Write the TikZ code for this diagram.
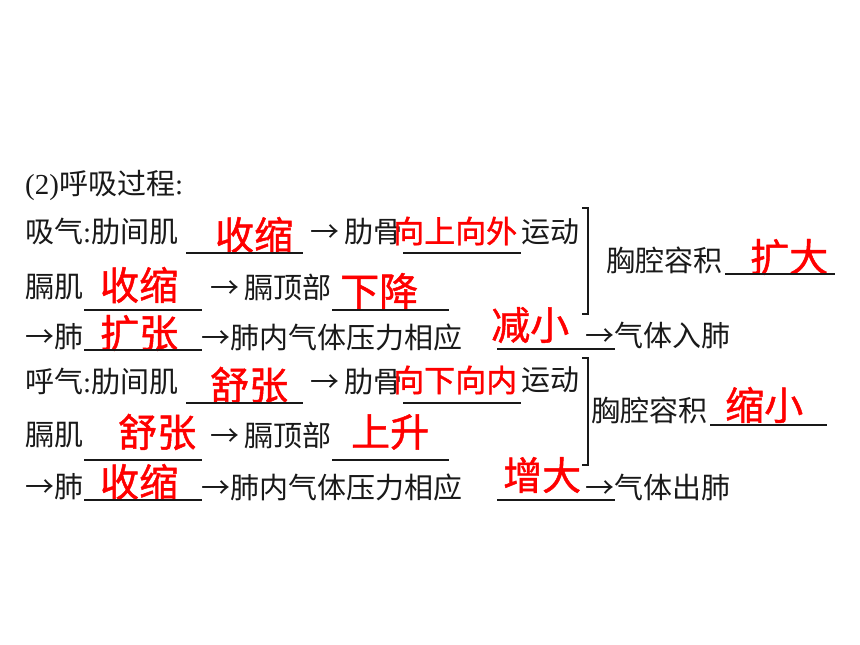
\documentclass[tikz,border=0pt]{standalone}
\usepackage{fontspec}
\setmainfont{Noto Sans CJK SC}
\newfontfamily\tnr{Liberation Serif}
\newfontfamily\ansfont[FakeBold=1.2]{Noto Sans CJK SC}
\usepackage{tikz}
\usetikzlibrary{positioning}

\begin{document}
\begin{tikzpicture}[x=1pt,y=-1pt,
  txt/.style={anchor=west, inner sep=0pt, text=black!90, font=\fontsize{29}{31}\selectfont},
  ans/.style={anchor=west, inner sep=0pt, text=red, font=\ansfont\fontsize{39}{41}\selectfont},
  anss/.style={ans, font=\ansfont\fontsize{31}{33}\selectfont},
  blank/.style={line width=1.4pt, black!90},
  brace/.style={line width=2pt, black!90}]
\useasboundingbox (0,0) rectangle (860,645);

% title
\node[txt] (title) at (25,185) {{\tnr (2)}呼吸过程{\tnr :}};

% inhale text
\node[txt] (i1) at (25,232) {吸气{\tnr :}肋间肌};
\node[txt] (i2) at (310,232) {→\,肋骨};
\node[txt] (i3) at (521,232) {运动};
\node[txt] (i4) at (25,287) {膈肌};
\node[txt] (i5) at (210,287) {→\,膈顶部};
\node[txt] (i6) at (25,337) {→肺};
\node[txt] (i7) at (201,337) {→肺内气体压力相应};
\node[txt] (i8) at (585,335) {→气体入肺};
\node[txt] (i9) at (606,260) {胸腔容积};

% inhale answers
\node[ans] (a1) at (215,235) {收缩};
\node[anss] (a2) at (393,231) {向上向外};
\node[ans] (a3) at (100,285) {收缩};
\node[ans] (a4) at (340,291) {下降};
\node[ans] (a5) at (100,333) {扩张};
\node[ans] (a6) at (491,325) {减小};
\node[ans] (a7) at (750,257) {扩大};

% exhale text
\node[txt] (e1) at (25,382) {呼气{\tnr :}肋间肌};
\node[txt] (e2) at (310,382) {→\,肋骨};
\node[txt] (e3) at (521,380) {运动};
\node[txt] (e4) at (25,435) {膈肌};
\node[txt] (e5) at (210,435) {→\,膈顶部};
\node[txt] (e6) at (25,487) {→肺};
\node[txt] (e7) at (201,487) {→肺内气体压力相应};
\node[txt] (e8) at (585,487) {→气体出肺};
\node[txt] (e9) at (591,410) {胸腔容积};

% exhale answers
\node[ans] (b1) at (210,385) {舒张};
\node[anss] (b2) at (393,380) {向下向内};
\node[ans] (b3) at (118,432) {舒张};
\node[ans] (b4) at (351,432) {上升};
\node[ans] (b5) at (100,482) {收缩};
\node[ans] (b6) at (503,475) {增大};
\node[ans] (b7) at (725,405) {缩小};

% blanks
\draw[blank] (186,253) -- (303,253);
\draw[blank] (403,253) -- (521,253);
\draw[blank] (84,310) -- (202,310);
\draw[blank] (332,310) -- (449,310);
\draw[blank] (84,350) -- (202,350);
\draw[blank] (497,349) -- (615,349);
\draw[blank] (725,274) -- (835,274);
\draw[blank] (186,403) -- (303,403);
\draw[blank] (403,403) -- (521,403);
\draw[blank] (84,460) -- (202,460);
\draw[blank] (332,460) -- (449,460);
\draw[blank] (84,500) -- (202,500);
\draw[blank] (497,500) -- (615,500);
\draw[blank] (710,425) -- (827,425);

% brackets
\draw[brace] (582,208) -- (588,208) -- (588,314) -- (582,314);
\draw[brace] (582,358) -- (588,358) -- (588,465) -- (582,465);

\end{tikzpicture}
\end{document}
